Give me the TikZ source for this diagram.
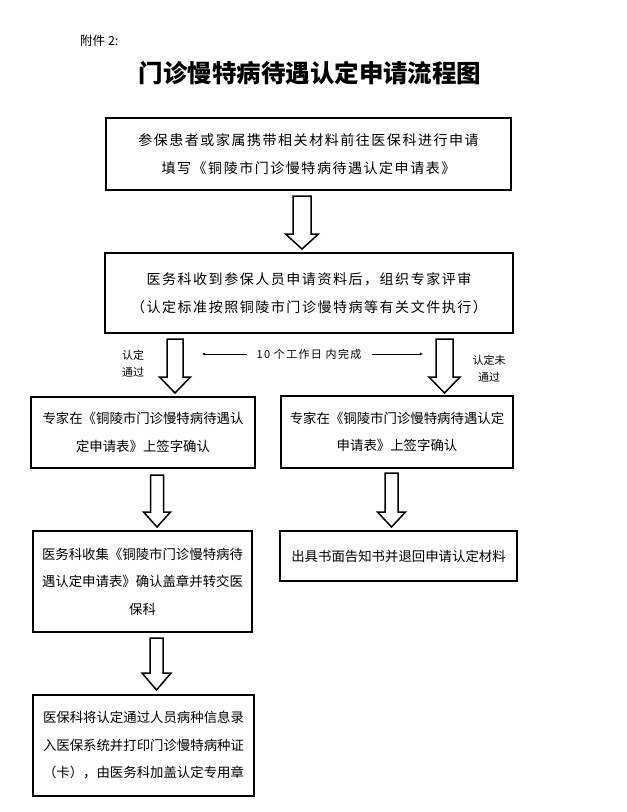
\documentclass[tikz,border=0pt]{standalone}
\usepackage{fontspec}
\setmainfont{Noto Sans CJK SC}
\newfontfamily\cjk{Noto Sans CJK SC}
\newfontfamily\cjkwide[LetterSpace=11]{Noto Sans CJK SC}
\newfontfamily\cjkmid[LetterSpace=0]{Noto Sans CJK SC}
\newfontfamily\cjksmall[LetterSpace=12]{Noto Sans CJK SC}
\newcommand{\blockarrow}[6]{%
  % cx, top, headtop, tip, shaft half, head half
  \draw[blkarrow] (#1-#5,#2) -- (#1+#5,#2) -- (#1+#5,#3) -- (#1+#6,#3) -- (#1,#4)
    -- (#1-#6,#3) -- (#1-#5,#3) -- cycle;}
\tikzset{
  box/.style={draw, line width=1.8pt, inner sep=0pt, align=center},
  widebox/.style={box, font=\cjkwide\fontsize{14}{28}\selectfont},
  midbox/.style={box, font=\cjkmid\fontsize{13.4}{27.5}\selectfont},
  blkarrow/.style={draw, line width=1.5pt, fill=white, line join=miter},
  lbl/.style={font=\cjk\fontsize{11}{17}\selectfont, align=center, inner sep=0pt},
  timeline/.style={line width=0.6pt, -{Latex[length=3pt,width=3pt]}},
}
\usetikzlibrary{arrows.meta}
\begin{document}
\begin{tikzpicture}[x=1pt,y=-1pt]
\useasboundingbox (0,0) rectangle (627,812);

\node[anchor=west, font=\cjk\fontsize{12.5}{14}\selectfont, inner sep=0pt] (att) at (80,41) {附件 2:};
\node[font=\cjk\bfseries\fontsize{24.5}{28}\selectfont, inner sep=0pt] (title) at (310,73) {门诊慢特病待遇认定申请流程图};

\node[widebox, minimum width=405pt, minimum height=72pt] (b1) at (308.5,154)
  {参保患者或家属携带相关材料前往医保科进行申请\\填写《铜陵市门诊慢特病待遇认定申请表》};

\node[widebox, minimum width=408pt, minimum height=80pt] (b2) at (309,293)
  {医务科收到参保人员申请资料后，组织专家评审\\（认定标准按照铜陵市门诊慢特病等有关文件执行）};

\node[midbox, minimum width=224pt, minimum height=71pt] (b3l) at (143,432.5)
  {专家在《铜陵市门诊慢特病待遇认\\定申请表》上签字确认};
\node[midbox, minimum width=232pt, minimum height=72pt] (b3r) at (397,432)
  {专家在《铜陵市门诊慢特病待遇认定\\申请表》上签字确认};

\node[midbox, minimum width=219pt, minimum height=101pt] (b4l) at (142.5,581.5)
  {医务科收集《铜陵市门诊慢特病待\\遇认定申请表》确认盖章并转交医\\保科};
\node[midbox, minimum width=237pt, minimum height=50pt] (b4r) at (398.5,556)
  {出具书面告知书并退回申请认定材料};

\node[midbox, minimum width=221pt, minimum height=101pt] (b5) at (143.5,745.5)
  {医保科将认定通过人员病种信息录\\入医保系统并打印门诊慢特病种证\\（卡），由医务科加盖认定专用章};

% block arrows
\blockarrow{302}{196}{234}{249}{9}{16.5}
\blockarrow{175}{339}{377}{393}{8}{15.5}
\blockarrow{444.5}{339}{377}{393}{8.5}{15.5}
\blockarrow{157}{475}{512}{527}{6.5}{13.5}
\blockarrow{391.5}{473}{512}{527}{6.5}{14}
\blockarrow{156.5}{638}{673}{690}{6.5}{14.5}

% labels
\node[lbl] (pass) at (133,363.5) {认定\\通过};
\node[lbl] (fail) at (489,368.5) {认定未\\通过};
\node[font=\cjksmall\fontsize{11}{13}\selectfont, inner sep=0pt] (tl) at (309,354) {10 个工作日 内完成};
\coordinate (tlL) at (202,354);
\coordinate (tlR) at (423,354);
\draw[timeline] ([xshift=-9pt]tl.west) -- (tlL);
\draw[timeline] ([xshift=10pt]tl.east) -- (tlR);
\end{tikzpicture}
\end{document}
